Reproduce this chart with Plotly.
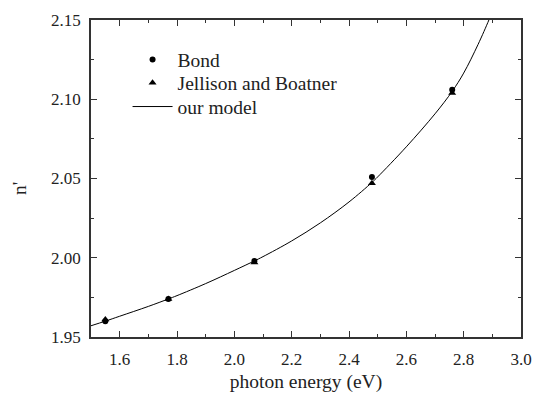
import plotly.graph_objects as go

# Bond data (circles)
bond_x = [1.55, 1.77, 2.07, 2.48, 2.76]
bond_y = [1.960, 1.974, 1.998, 2.051, 2.106]

# Jellison and Boatner data (triangles)
jb_x = [1.55, 1.77, 2.07, 2.48, 2.76]
jb_y = [1.961, 1.974, 1.997, 2.047, 2.104]

# model curve
model_x = [1.5, 1.55, 1.6, 1.7, 1.77, 1.8, 1.9, 2.0, 2.07, 2.1, 2.2, 2.3, 2.4, 2.48, 2.5, 2.6, 2.7, 2.76, 2.8, 2.85, 2.888, 2.9]
model_y = [1.9571, 1.9600, 1.9631, 1.9693, 1.9740, 1.9761, 1.9837, 1.9920, 1.9980, 2.0007, 2.0106, 2.0220, 2.0352, 2.0475, 2.0510, 2.0700, 2.0908, 2.1050, 2.1165, 2.1345, 2.1500, 2.1555]

x_ticks = [1.6, 1.8, 2.0, 2.2, 2.4, 2.6, 2.8, 3.0]
y_ticks = [1.95, 2.00, 2.05, 2.10, 2.15]

FONT = "'Liberation Serif', 'Times New Roman', 'DejaVu Serif', serif"
INK = "#222"

fig = go.Figure()
fig.add_trace(go.Scatter(x=bond_x, y=bond_y, mode="markers", name="Bond", legend="legend",
                         marker=dict(symbol="circle", size=6, color="black")))
fig.add_trace(go.Scatter(x=jb_x, y=jb_y, mode="markers", name="Jellison and Boatner", legend="legend2",
                         marker=dict(symbol="triangle-up", size=7, color="black")))
fig.add_trace(go.Scatter(x=model_x, y=model_y, mode="lines", name="our model", legend="legend3",
                         line=dict(color="black", width=1, shape="spline")))

axis_common = dict(
    showgrid=False, zeroline=False, showline=True, linecolor="#333", linewidth=1.5,
    mirror="ticks", ticks="inside", ticklen=6, tickwidth=1, tickcolor="#333",
    tickfont=dict(family=FONT, size=17, color=INK), automargin=False,
)

legend_common = dict(xanchor="left", yanchor="middle", bgcolor="rgba(0,0,0,0)",
                     font=dict(family=FONT, size=19.5, color=INK), itemwidth=40)

fig.update_layout(
    width=535, height=395,
    margin=dict(l=91, r=14, t=20, b=58),
    paper_bgcolor="white", plot_bgcolor="white",
    font=dict(family=FONT, size=17, color=INK),
    showlegend=True,
    legend=dict(x=0.085, y=0.874, **legend_common),
    legend2=dict(x=0.085, y=0.801, **legend_common),
    legend3=dict(x=0.085, y=0.726, **legend_common),
    xaxis=dict(range=[1.5, 3.0], tickvals=x_ticks, ticktext=[f"{v:.1f}" for v in x_ticks],
               minor=dict(ticks="inside", ticklen=3, dtick=0.1, tick0=1.5, tickcolor="#333"),
               ticklabelstandoff=6,
               title=dict(text="photon energy (eV)", font=dict(family=FONT, size=19.5, color=INK), standoff=6),
               **axis_common),
    yaxis=dict(range=[1.95, 2.15], tickvals=y_ticks, ticktext=[f"{v:.2f}" for v in y_ticks],
               minor=dict(ticks="inside", ticklen=3, dtick=0.025, tick0=1.95, tickcolor="#333"),
               ticklabelstandoff=5,
               **axis_common),
    annotations=[dict(text="n'", xref="paper", yref="paper", x=-0.165, y=0.467,
                      xanchor="center", yanchor="middle", textangle=-90, showarrow=False,
                      font=dict(family=FONT, size=19.5, color=INK))],
)

fig.write_html("out.html", config={"displayModeBar": False},
               post_script="document.body.style.margin='0';")
